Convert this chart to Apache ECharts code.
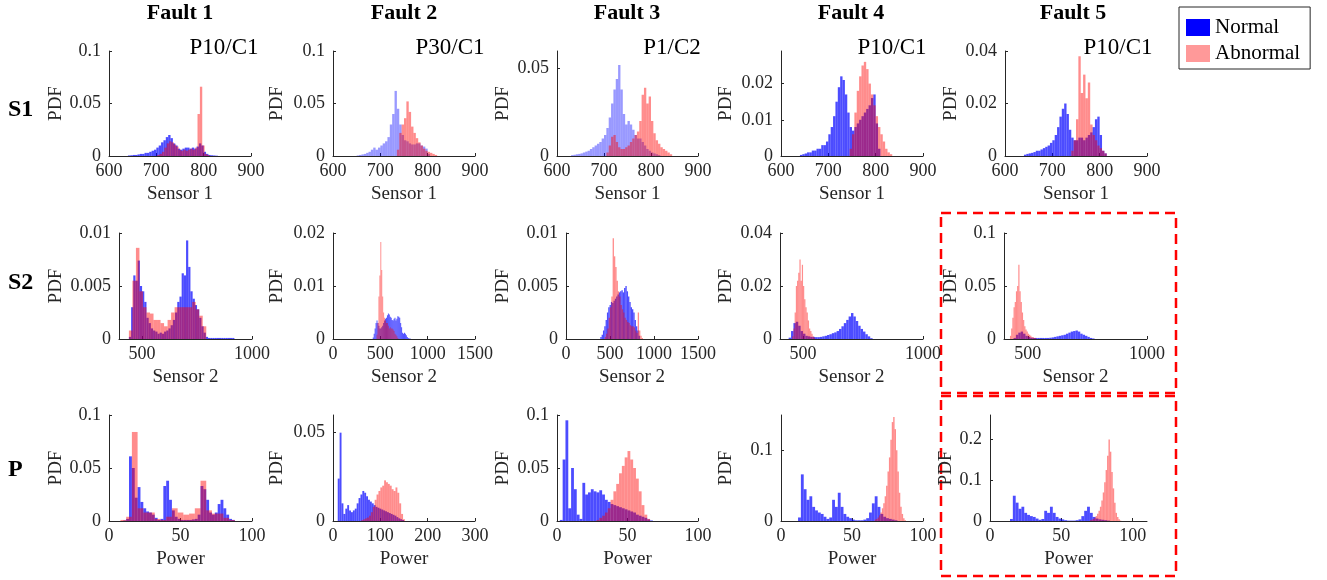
<!DOCTYPE html>
<html>
<head>
<meta charset="utf-8">
<script src="https://cdn.jsdelivr.net/npm/echarts@6/dist/echarts.min.js"></script>
<style>
html, body { margin: 0; background: #fff; }
#chart { width: 1327px; height: 580px; }
</style>
</head>
<body>
<div id="chart"></div>
<script>
// column / row headings
var faults = ['Fault 1', 'Fault 2', 'Fault 3', 'Fault 4', 'Fault 5'];
var rowNames = ['S1', 'S2', 'P'];
var xNames = ['Sensor 1', 'Sensor 2', 'Power'];
var tags = ['P10/C1', 'P30/C1', 'P1/C2', 'P10/C1', 'P10/C1'];

// axis ranges and tick labels, plot order: row by row
var xRange = [[600, 900], [600, 900], [600, 900], [600, 900], [600, 900],
  [395, 1000], [0, 1500], [0, 1500], [404, 1000], [400, 1000],
  [0, 100], [0, 300], [0, 100], [0, 100], [0, 110]];
var xTicks = [[600, 700, 800, 900], [600, 700, 800, 900], [600, 700, 800, 900], [600, 700, 800, 900], [600, 700, 800, 900],
  [500, 1000], [0, 500, 1000, 1500], [0, 500, 1000, 1500], [500, 1000], [500, 1000],
  [0, 50, 100], [0, 100, 200, 300], [0, 50, 100], [0, 50, 100], [0, 50, 100]];
var yMax = [0.1, 0.1, 0.06, 0.029, 0.04,
  0.01, 0.02, 0.01, 0.04, 0.1,
  0.1, 0.06, 0.1, 0.15, 0.26];
var yTicks = [[0, 0.05, 0.1], [0, 0.05, 0.1], [0, 0.05], [0, 0.01, 0.02], [0, 0.02, 0.04],
  [0, 0.005, 0.01], [0, 0.01, 0.02], [0, 0.005, 0.01], [0, 0.02, 0.04], [0, 0.05, 0.1],
  [0, 0.05, 0.1], [0, 0.05], [0, 0.05, 0.1], [0, 0.1], [0, 0.1, 0.2]];

// histogram bins: [first edge, bin width] for normal, abnormal
var f1s1Edges = [[640, 5], [702, 5]];
var f1s1N = [0.0005, 0.0007, 0.001, 0.001, 0.0015, 0.002, 0.002, 0.003, 0.003, 0.004, 0.005, 0.006,
  0.008, 0.010, 0.013, 0.015, 0.018, 0.020, 0.017, 0.012, 0.010, 0.007, 0.006, 0.007, 0.008, 0.008,
  0.007, 0.008, 0.007, 0.009, 0.012, 0.010, 0.004, 0.002, 0.001, 0.0007, 0.0005, 0.0003];
var f1s1A = [0.001, 0.002, 0.004, 0.008, 0.012, 0.014, 0.013, 0.011, 0.009, 0.006, 0.005, 0.006,
  0.005, 0.006, 0.007, 0.006, 0.008, 0.040, 0.066, 0.010, 0.002, 0.001];

var f2s1Edges = [[650, 5], [735, 5]];
var f2s1N = [0.0005, 0.001, 0.0015, 0.002, 0.003, 0.004, 0.006, 0.008, 0.006, 0.008, 0.010, 0.012,
  0.014, 0.018, 0.030, 0.040, 0.062, 0.045, 0.030, 0.020, 0.015, 0.014, 0.012, 0.011, 0.011, 0.012,
  0.012, 0.010, 0.009, 0.007, 0.002];
var f2s1A = [0.006, 0.022, 0.030, 0.036, 0.052, 0.042, 0.028, 0.022, 0.017, 0.013, 0.010, 0.007,
  0.005, 0.004, 0.003, 0.002, 0.001];

var f3s1Edges = [[630, 5], [705, 5]];
var f3s1N = [0.0005, 0.0007, 0.001, 0.0012, 0.0015, 0.002, 0.0025, 0.003, 0.004, 0.005, 0.006, 0.007,
  0.008, 0.010, 0.012, 0.016, 0.022, 0.030, 0.038, 0.044, 0.052, 0.038, 0.024, 0.018, 0.020, 0.018,
  0.015, 0.012, 0.010, 0.010, 0.008, 0.006, 0.004, 0.003, 0.002, 0.0015, 0.001, 0.0005];
var f3s1A = [0.002, 0.006, 0.011, 0.012, 0.008, 0.005, 0.004, 0.004, 0.005, 0.006, 0.008, 0.010,
  0.012, 0.014, 0.020, 0.035, 0.039, 0.030, 0.034, 0.020, 0.013, 0.009, 0.007, 0.005, 0.004, 0.003,
  0.002, 0.001];

var f4s1Edges = [[640, 5], [745, 5]];
var f4s1N = [0.0003, 0.0005, 0.0007, 0.001, 0.001, 0.0015, 0.0015, 0.002, 0.002, 0.003, 0.003, 0.004,
  0.006, 0.008, 0.011, 0.015, 0.019, 0.022, 0.021, 0.017, 0.012, 0.008, 0.007, 0.008, 0.009, 0.010,
  0.011, 0.012, 0.013, 0.014, 0.016, 0.017, 0.009, 0.002];
var f4s1A = [0.002, 0.006, 0.012, 0.018, 0.022, 0.025, 0.026, 0.024, 0.020, 0.017, 0.014, 0.011,
  0.008, 0.006, 0.004, 0.002, 0.001, 0.0005];

var f5s1Edges = [[640, 5], [740, 5]];
var f5s1N = [0.0005, 0.0008, 0.001, 0.0012, 0.0015, 0.002, 0.002, 0.0025, 0.003, 0.0035, 0.004, 0.005,
  0.006, 0.008, 0.011, 0.015, 0.018, 0.020, 0.016, 0.010, 0.007, 0.006, 0.006, 0.007, 0.007, 0.006,
  0.007, 0.008, 0.009, 0.011, 0.014, 0.015, 0.008, 0.002, 0.001];
var f5s1A = [0.002, 0.006, 0.014, 0.038, 0.024, 0.031, 0.022, 0.028, 0.012, 0.008, 0.006, 0.004,
  0.003, 0.002, 0.001];

var f1s2Edges = [[440, 10], [440, 16]];
var f1s2N = [0.0002, 0.003, 0.006, 0.0055, 0.0074, 0.005, 0.0045, 0.0035, 0.002, 0.0015, 0.001, 0.0008,
  0.0007, 0.0005, 0.0006, 0.0005, 0.0007, 0.0008, 0.001, 0.0013, 0.0018, 0.0025, 0.0035, 0.004,
  0.0062, 0.006, 0.0093, 0.0068, 0.0045, 0.0038, 0.0032, 0.0028, 0.002, 0.0012, 0.0006, 0.0002,
  0.0001, 0.0001, 0.0001, 0.0001, 0.0001, 0.0001, 0.0001, 0.0001, 0.0001, 0.0001, 0.0001, 0.0001];
var f1s2A = [0.0008, 0.0055, 0.0086, 0.0045, 0.003, 0.0025, 0.0024, 0.0018, 0.0018, 0.0015, 0.0012,
  0.0018, 0.0025, 0.003, 0.003, 0.003, 0.003, 0.003, 0.0035, 0.0028, 0.0022, 0.0012];

var f2s2Edges = [[420, 10], [460, 10]];
var f2s2N = [0.0003, 0.001, 0.002, 0.003, 0.0035, 0.003, 0.0025, 0.002, 0.002, 0.0022, 0.0025, 0.003,
  0.0035, 0.0038, 0.004, 0.0045, 0.0048, 0.0046, 0.0042, 0.004, 0.0036, 0.0035, 0.0038, 0.004, 0.0035,
  0.0038, 0.0043, 0.0042, 0.004, 0.003, 0.0022, 0.0012, 0.001, 0.0012, 0.001, 0.0007, 0.0004, 0.0002,
  0.0001, 0.0001];
var f2s2A = [0.0008, 0.003, 0.008, 0.012, 0.0183, 0.013, 0.008, 0.005, 0.004, 0.0035, 0.003, 0.003,
  0.0025, 0.002, 0.0022, 0.002, 0.002, 0.0018, 0.0015, 0.001, 0.0008, 0.0005, 0.0002];

var f3s2Edges = [[390, 15], [440, 15]];
var f3s2N = [0.0002, 0.0004, 0.0008, 0.0012, 0.0018, 0.0025, 0.003, 0.0032, 0.0035, 0.0034, 0.0036,
  0.0038, 0.004, 0.0042, 0.0044, 0.0045, 0.0046, 0.0044, 0.0048, 0.005, 0.0045, 0.004, 0.0035, 0.003,
  0.0028, 0.0025, 0.0018, 0.0012, 0.0008, 0.0003];
var f3s2A = [0.0002, 0.0005, 0.001, 0.002, 0.003, 0.004, 0.0095, 0.0078, 0.0068, 0.0055, 0.0045, 0.004,
  0.0032, 0.0028, 0.0025, 0.002, 0.0018, 0.0016, 0.0015, 0.0013, 0.0012, 0.0012, 0.0011, 0.0008,
  0.0006, 0.0025, 0.0008, 0.0003, 0.0001];

var f4s2Edges = [[440, 10], [455, 5]];
var f4s2N = [0.0005, 0.003, 0.006, 0.0065, 0.005, 0.003, 0.002, 0.0012, 0.001, 0.0008, 0.0008, 0.0007,
  0.0007, 0.0008, 0.001, 0.0012, 0.0015, 0.0018, 0.0022, 0.0025, 0.003, 0.0038, 0.0048, 0.006, 0.0072,
  0.0085, 0.0098, 0.0085, 0.0068, 0.005, 0.0038, 0.0028, 0.0018, 0.001, 0.0003];
var f4s2A = [0.001, 0.004, 0.010, 0.020, 0.022, 0.025, 0.030, 0.022, 0.028, 0.020, 0.015, 0.012, 0.010,
  0.007, 0.004, 0.003, 0.002, 0.001, 0.0005];

var f5s2Edges = [[440, 10], [425, 5]];
var f5s2N = [0.001, 0.004, 0.006, 0.007, 0.005, 0.003, 0.002, 0.0012, 0.001, 0.001, 0.001, 0.001, 0.001,
  0.001, 0.001, 0.0012, 0.0015, 0.002, 0.0025, 0.003, 0.0035, 0.004, 0.005, 0.006, 0.007, 0.0075, 0.008,
  0.007, 0.005, 0.004, 0.003, 0.002, 0.001, 0.0005];
var f5s2A = [0.003, 0.010, 0.020, 0.030, 0.035, 0.045, 0.050, 0.070, 0.045, 0.035, 0.025, 0.018, 0.012,
  0.009, 0.007, 0.005, 0.004, 0.003, 0.002, 0.002, 0.001, 0.001];

var f1pEdges = [[10, 2], [8, 4]];
var f1pN = [0.0005, 0.002, 0.061, 0.050, 0.022, 0.032, 0.018, 0.012, 0.009, 0.008, 0.006, 0.003, 0.001,
  0.002, 0.033, 0.038, 0.020, 0.010, 0.004, 0.002, 0.001, 0.001, 0.001, 0.001, 0.0015, 0.002, 0.006,
  0.033, 0.030, 0.020, 0.008, 0.006, 0.008, 0.016, 0.020, 0.012, 0.006, 0.002, 0.001];
var f1pA = [0.001, 0.004, 0.084, 0.012, 0.008, 0.008, 0.002, 0.001, 0.004, 0.012, 0.008, 0.006, 0.007,
  0.012, 0.038, 0.010, 0.007, 0.007, 0.003, 0.001];

var f2pEdges = [[10, 4], [60, 4]];
var f2pN = [0.024, 0.050, 0.010, 0.004, 0.007, 0.009, 0.006, 0.005, 0.006, 0.007, 0.010, 0.013, 0.015,
  0.017, 0.016, 0.014, 0.012, 0.011, 0.010, 0.009, 0.008, 0.0075, 0.007, 0.0065, 0.006, 0.0055, 0.005,
  0.0045, 0.004, 0.0035, 0.003, 0.0022, 0.0015, 0.001, 0.0005];
var f2pA = [0.0005, 0.001, 0.0015, 0.002, 0.003, 0.005, 0.008, 0.012, 0.015, 0.017, 0.019, 0.020, 0.023,
  0.022, 0.021, 0.020, 0.018, 0.017, 0.019, 0.016, 0.010, 0.004, 0.001];

var f3pEdges = [[2, 2], [28, 2]];
var f3pN = [0.001, 0.058, 0.095, 0.012, 0.050, 0.030, 0.006, 0.002, 0.036, 0.025, 0.027, 0.030, 0.028,
  0.027, 0.029, 0.025, 0.020, 0.018, 0.016, 0.015, 0.014, 0.013, 0.012, 0.011, 0.010, 0.009, 0.008,
  0.006, 0.005, 0.004, 0.003, 0.0015, 0.0005];
var f3pA = [0.001, 0.003, 0.005, 0.008, 0.012, 0.020, 0.028, 0.035, 0.045, 0.052, 0.060, 0.066, 0.058,
  0.050, 0.040, 0.028, 0.015, 0.006, 0.002];

var f4pEdges = [[12, 2], [66, 1]];
var f4pN = [0.005, 0.066, 0.045, 0.030, 0.035, 0.020, 0.015, 0.012, 0.010, 0.006, 0.003, 0.005, 0.030,
  0.020, 0.040, 0.020, 0.010, 0.006, 0.004, 0.002, 0.001, 0.001, 0.001, 0.002, 0.004, 0.012, 0.025,
  0.035, 0.020, 0.010, 0.006, 0.004, 0.003, 0.002, 0.001];
var f4pA = [0.002, 0.003, 0.005, 0.008, 0.012, 0.018, 0.025, 0.035, 0.050, 0.070, 0.090, 0.115, 0.140,
  0.147, 0.130, 0.100, 0.070, 0.040, 0.020, 0.010, 0.004, 0.001];

var f5pEdges = [[14, 2], [70, 1]];
var f5pN = [0.005, 0.062, 0.045, 0.030, 0.035, 0.020, 0.015, 0.012, 0.010, 0.006, 0.003, 0.005, 0.025,
  0.020, 0.035, 0.020, 0.010, 0.006, 0.004, 0.002, 0.001, 0.001, 0.001, 0.002, 0.004, 0.012, 0.025,
  0.035, 0.020, 0.010, 0.006, 0.004, 0.003, 0.002, 0.001];
var f5pA = [0.002, 0.003, 0.005, 0.008, 0.012, 0.018, 0.025, 0.035, 0.050, 0.070, 0.095, 0.125, 0.160,
  0.200, 0.170, 0.120, 0.080, 0.045, 0.020, 0.010, 0.004, 0.001];

var histograms = [
  [f1s1Edges, f1s1N, f1s1A], [f2s1Edges, f2s1N, f2s1A], [f3s1Edges, f3s1N, f3s1A], [f4s1Edges, f4s1N, f4s1A], [f5s1Edges, f5s1N, f5s1A],
  [f1s2Edges, f1s2N, f1s2A], [f2s2Edges, f2s2N, f2s2A], [f3s2Edges, f3s2N, f3s2A], [f4s2Edges, f4s2N, f4s2A], [f5s2Edges, f5s2N, f5s2A],
  [f1pEdges, f1pN, f1pA], [f2pEdges, f2pN, f2pA], [f3pEdges, f3pN, f3pA], [f4pEdges, f4pN, f4pA], [f5pEdges, f5pN, f5pA]
];

// layout of the 15 panels
var FONT = '"Liberation Serif", "Times New Roman", serif';
var lefts = [109, 333, 557, 781, 1005, 119, 333, 566, 780, 1004, 109, 333, 557, 781, 990];
var widths = [142, 142, 141, 142, 142, 133, 142, 132, 143, 143, 143, 142, 141, 142, 157];
var tops = [51, 233, 415];
var heights = [105, 106, 106];
var pdfGap = [43, 46, 44, 45, 44, 53, 46, 53, 44, 43, 43, 46, 44, 45, 28];
var normalColor = ['rgba(0,0,255,0.7)', 'rgba(0,0,255,0.4)', 'rgba(0,0,255,0.4)', 'rgba(0,0,255,0.7)', 'rgba(0,0,255,0.7)'];
var abnormalColor = 'rgba(255,0,0,0.45)';

function toBins(edge, values) {
  return values.map(function (v, i) {
    return [edge[0] + i * edge[1], edge[0] + (i + 1) * edge[1], v];
  });
}

function renderBar(params, api) {
  var a = api.coord([api.value(0), 0]);
  var b = api.coord([api.value(1), api.value(2)]);
  return {
    type: 'rect',
    shape: {x: a[0], y: b[1], width: b[0] - a[0], height: a[1] - b[1]},
    style: api.style()
  };
}

function fmt(v) { return String(+(+v).toFixed(6)); }

var grids = [], xAxes = [], yAxes = [], series = [];
for (var i = 0; i < 15; i++) {
  var row = Math.floor(i / 5), col = i % 5;
  grids.push({left: lefts[i], top: tops[row], width: widths[i], height: heights[row]});
  xAxes.push({
    type: 'value', gridIndex: i, min: xRange[i][0], max: xRange[i][1],
    name: xNames[row], nameLocation: 'middle', nameGap: 29,
    nameTextStyle: {fontFamily: FONT, fontSize: 19, color: '#262626'},
    axisLine: {lineStyle: {color: '#262626', width: 1}},
    axisTick: {inside: true, length: 3, customValues: xTicks[i], lineStyle: {color: '#262626'}},
    axisLabel: {customValues: xTicks[i], formatter: fmt, fontFamily: FONT, fontSize: 18, color: '#262626', margin: 6},
    splitLine: {show: false}
  });
  yAxes.push({
    type: 'value', gridIndex: i, min: 0, max: yMax[i],
    name: 'PDF', nameLocation: 'middle', nameGap: pdfGap[i],
    nameTextStyle: {fontFamily: FONT, fontSize: 19, color: '#262626'},
    axisLine: {show: true, lineStyle: {color: '#262626', width: 1}},
    axisTick: {show: true, inside: true, length: 3, customValues: yTicks[i], lineStyle: {color: '#262626'}},
    axisLabel: {customValues: yTicks[i], formatter: fmt, fontFamily: FONT, fontSize: 18, color: '#262626', margin: 8},
    splitLine: {show: false}
  });
  var h = histograms[i];
  series.push({
    type: 'custom', name: 'Normal', xAxisIndex: i, yAxisIndex: i, clip: true,
    renderItem: renderBar, encode: {x: [0, 1], y: 2},
    itemStyle: {color: normalColor[row === 0 ? col : 0]},
    data: toBins(h[0][0], h[1])
  });
  series.push({
    type: 'custom', name: 'Abnormal', xAxisIndex: i, yAxisIndex: i, clip: true,
    renderItem: renderBar, encode: {x: [0, 1], y: 2},
    itemStyle: {color: abnormalColor},
    data: toBins(h[0][1], h[2])
  });
}

var graphics = [];
var faultX = [180, 404, 627, 851, 1073];
faults.forEach(function (t, k) {
  graphics.push({type: 'text', x: faultX[k], y: 13, style: {text: t, font: 'bold 22px ' + FONT, align: 'center', verticalAlign: 'middle', fill: '#000'}});
});
var rowY = [110, 283, 470];
rowNames.forEach(function (t, k) {
  graphics.push({type: 'text', x: 8, y: rowY[k], style: {text: t, font: 'bold 24px ' + FONT, align: 'left', verticalAlign: 'middle', fill: '#000'}});
});
var tagX = [224, 450, 672, 892, 1118];
tags.forEach(function (t, k) {
  graphics.push({type: 'text', x: tagX[k], y: 48, style: {text: t, font: '23px ' + FONT, align: 'center', verticalAlign: 'middle', fill: '#000'}});
});
graphics.push({type: 'rect', shape: {x: 941, y: 213, width: 235, height: 180}, style: {fill: null, stroke: '#ff0000', lineWidth: 2.5, lineDash: [10, 6]}});
graphics.push({type: 'rect', shape: {x: 941, y: 396, width: 235, height: 180}, style: {fill: null, stroke: '#ff0000', lineWidth: 2.5, lineDash: [10, 6]}});

var chart = echarts.init(document.getElementById('chart'));
chart.setOption({
  backgroundColor: '#fff',
  animation: false,
  grid: grids,
  xAxis: xAxes,
  yAxis: yAxes,
  series: series,
  legend: {
    orient: 'vertical', left: 1179, top: 7, icon: 'rect',
    itemWidth: 24, itemHeight: 17, itemGap: 5, selectedMode: false,
    borderColor: '#262626', borderWidth: 1, padding: [10, 10, 5, 7],
    textStyle: {fontFamily: FONT, fontSize: 21, color: '#000'},
    data: [{name: 'Normal', itemStyle: {color: '#0000ff'}}, {name: 'Abnormal', itemStyle: {color: '#ff9999'}}]
  },
  graphic: graphics
});
</script>
</body>
</html>
